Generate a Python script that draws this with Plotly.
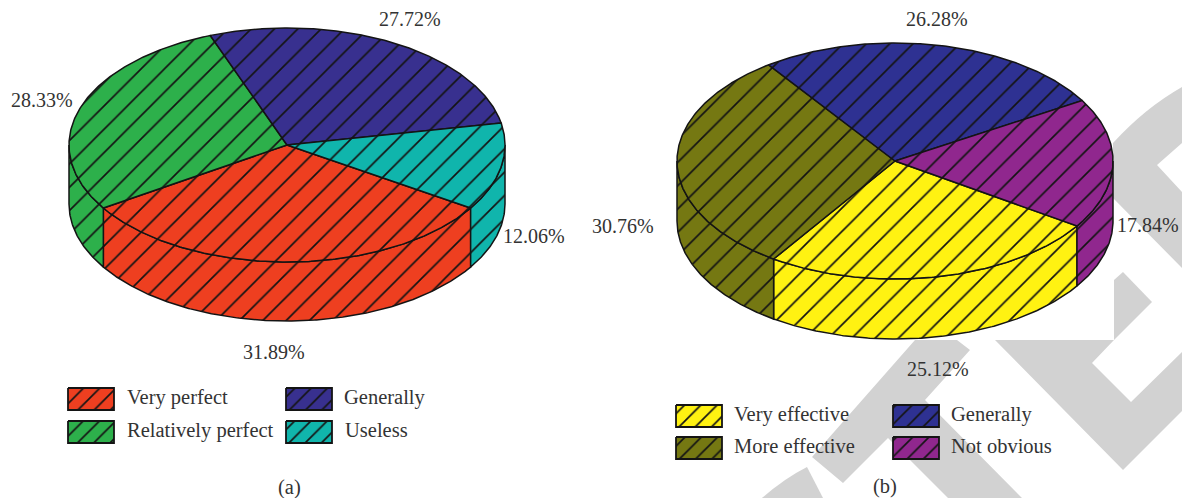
import numpy as np
import plotly.graph_objects as go

# ---- data ----
categories_a = ["Very perfect", "Relatively perfect", "Generally", "Useless"]
values_a = [31.89, 28.33, 27.72, 12.06]
colors_a = ["#EE3F20", "#2DB04B", "#38308F", "#10B5AC"]

categories_b = ["Very effective", "More effective", "Generally", "Not obvious"]
values_b = [25.12, 30.76, 26.28, 17.84]
colors_b = ["#FFF212", "#757812", "#2E3192", "#90278E"]

LINE = "#141414"
TEXT = "#333333"
FONT = "Liberation Serif"
FS = 20.5
FS_PCT = 20
HATCH = 16.5

# pie geometry (cx, cy, rx, ry, depth, first slice start: degrees clockwise from front)
PIE_A = (287, 145, 218, 117, 59, -57.4)
PIE_B = (895, 161, 218, 118, 60, -56.6)


def rim(geom, a0, a1, dy=0.0):
    cx, cy, rx, ry = geom[:4]
    t = np.radians(np.linspace(a0, a1, max(2, int(abs(a1 - a0) * 2) + 1)))
    return cx - rx * np.sin(t), cy + ry * np.cos(t) + dy


def poly(x, y, color, size=HATCH, width=1.5):
    return go.Scatter(
        x=list(x), y=list(y), mode="lines", fill="toself", fillcolor=color,
        fillpattern=dict(shape="/", size=size, solidity=1.7 / size, fgcolor=LINE,
                         bgcolor=color, fillmode="replace"),
        line=dict(color=LINE, width=width), hoverinfo="skip", showlegend=False,
    )


def pie_traces(values, colors, geom):
    depth, start = geom[4], geom[5]
    total = sum(values)
    edges = start + np.cumsum([0] + [v / total * 360 for v in values])
    walls, tops = [], []
    for i, color in enumerate(colors):
        a0, a1 = edges[i], edges[i + 1]
        # front walls: visible while the angle lies within 90 degrees of the front
        for shift in (0, -360):
            lo, hi = max(a0 + shift, -90), min(a1 + shift, 90)
            if hi > lo:
                xt, yt = rim(geom, lo, hi)
                xb, yb = rim(geom, hi, lo, depth)
                walls.append(poly(np.r_[xt, xb, xt[0]], np.r_[yt, yb, yt[0]], color))
        x, y = rim(geom, a0, a1)
        tops.append(poly(np.r_[geom[0], x, geom[0]], np.r_[geom[1], y, geom[1]], color))
    return walls + tops


fig = go.Figure()
for tr in pie_traces(values_a, colors_a, PIE_A) + pie_traces(values_b, colors_b, PIE_B):
    fig.add_trace(tr)

# legend swatches
SW_W, SW_H = 46, 22
swatches = [
    (68, 388, colors_a[0]), (68, 421, colors_a[1]), (286, 388, colors_a[2]), (286, 421, colors_a[3]),
    (676, 405, colors_b[0]), (676, 437, colors_b[1]), (893, 405, colors_b[2]), (893, 437, colors_b[3]),
]
for sx, sy, c in swatches:
    fig.add_trace(poly([sx, sx + SW_W, sx + SW_W, sx, sx], [sy, sy, sy + SW_H, sy + SW_H, sy],
                       c, size=11.5, width=1.8))

# text
labels = [
    ("27.72%", 410, 19, "center", FS_PCT), ("28.33%", 42, 100, "center", FS_PCT),
    ("12.06%", 534, 236, "center", FS_PCT), ("31.89%", 274, 352, "center", FS_PCT),
    ("26.28%", 937, 19, "center", FS_PCT), ("30.76%", 623, 226, "center", FS_PCT),
    ("17.84%", 1148, 225, "center", FS_PCT), ("25.12%", 938, 369, "center", FS_PCT),
    (categories_a[0], 125, 397, "left", FS), (categories_a[1], 125, 430, "left", FS),
    (categories_a[2], 342, 397, "left", FS), (categories_a[3], 343, 430, "left", FS),
    (categories_b[0], 732, 414, "left", FS), (categories_b[1], 732, 446, "left", FS),
    (categories_b[2], 949, 414, "left", FS), (categories_b[3], 949, 446, "left", FS),
    ("(a)", 289, 487, "center", FS), ("(b)", 885, 486, "center", FS),
]
annotations = [
    dict(text=t, x=x, y=y, xref="x", yref="y", showarrow=False, xanchor=a, yanchor="middle",
         font=dict(family=FONT, size=s, color=TEXT))
    for t, x, y, a, s in labels
]

# watermark
watermark = [
    "M1182,87 Q1145,108 1113,143 L1113,198 L1182,268 L1182,192 L1157,165 L1182,143 Z",
    "M1114,280 L1123,272 L1152,302 L1114,340 Z",
    "M995,340 L1114,340 L1092,363 L1131,402 L1182,352 L1182,411 L1123,470 Z",
    "M915,340 L957,340 L970,350 L925,400 L1022,498 L948,498 L888,438 L843,483 L812,457 Z",
    "M807,467 L823,498 L762,498 Q785,478 807,467 Z",
]
shapes = [dict(type="path", path=p, xref="x", yref="y", fillcolor="#D2D2D2",
               line=dict(width=0), layer="below") for p in watermark]

fig.update_layout(
    width=1182, height=498, autosize=False,
    margin=dict(l=0, r=0, t=0, b=0),
    paper_bgcolor="white", plot_bgcolor="white",
    xaxis=dict(range=[0, 1182], visible=False, fixedrange=True),
    yaxis=dict(range=[498, 0], visible=False, fixedrange=True),
    annotations=annotations, shapes=shapes, showlegend=False,
)
fig.write_html("out.html", config={"displayModeBar": False},
               post_script="document.body.style.margin='0';document.body.style.overflow='hidden';")
